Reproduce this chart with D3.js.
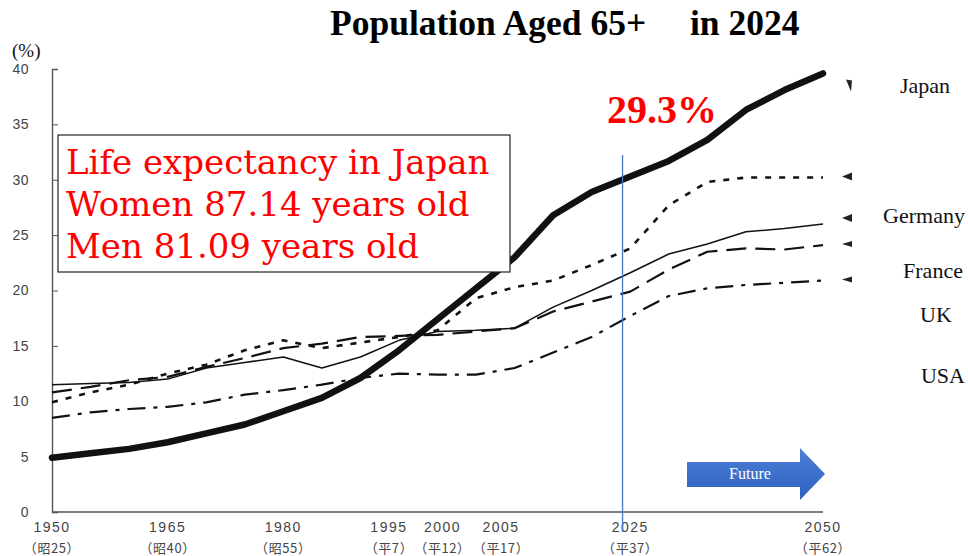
<!DOCTYPE html>
<html>
<head>
<meta charset="utf-8">
<script src="https://cdn.jsdelivr.net/npm/d3@7"></script>
<style>
  html, body { margin: 0; padding: 0; background: #fff; }
  svg { display: block; }
</style>
</head>
<body>
<svg id="chart" width="968" height="556"></svg>
<script>
// ---- data ----
const years = [1950,1955,1960,1965,1970,1975,1980,1985,1990,1995,2000,2005,2010,2015,2020,2025,2030,2035,2040,2045,2050];
const japan   = [4.9,5.3,5.7,6.3,7.1,7.9,9.1,10.3,12.1,14.6,17.4,20.2,23.0,26.8,28.9,30.3,31.7,33.6,36.3,38.1,39.6];
const germany = [9.9,10.8,11.5,12.5,13.3,14.6,15.5,14.8,15.3,15.8,16.4,19.3,20.3,20.9,22.3,23.8,27.7,29.8,30.2,30.2,30.2];
const france  = [11.5,11.6,11.7,12.0,13.0,13.5,14.0,13.0,14.0,15.5,16.3,16.4,16.6,18.5,20.0,21.6,23.3,24.2,25.3,25.6,26.0];
const uk      = [10.8,11.3,11.9,12.2,13.1,13.9,14.8,15.2,15.8,15.9,16.0,16.3,16.6,18.1,19.0,19.9,21.9,23.5,23.8,23.7,24.1];
const usa     = [8.5,9.0,9.3,9.5,9.9,10.6,11.0,11.5,12.1,12.5,12.4,12.4,13.0,14.4,15.8,17.7,19.5,20.2,20.5,20.7,20.9];
const seriesNames = ["Japan","Germany","France","UK","USA"];
const yTicks = [0,5,10,15,20,25,30,35,40];
const xTickYears = [1950,1965,1980,1995,2000,2005,2025,2050];
const xTickEras  = ["（昭25）","（昭40）","（昭55）","（平7）","（平12）","（平17）","（平37）","（平62）"];
const markerYear = 2024;
const titleMain = "Population Aged 65+";
const titleYear = "in 2024";
const shareLabel = "29.3%";
const lifeLines = ["Life expectancy in Japan","Women 87.14 years old","Men 81.09 years old"];
const futureLabel = "Future";

// ---- layout ----
const svg = d3.select("#chart");
const x = d3.scaleLinear().domain([1950, 2050]).range([52, 823]);
const y = d3.scaleLinear().domain([0, 40]).range([512, 69]);
const axisColor = "#555";
const tickFont = "'Liberation Sans', Arial, sans-serif";

// y axis
const yAxis = svg.append("g")
  .attr("transform", "translate(52,0)")
  .call(d3.axisLeft(y).tickValues(yTicks).tickSize(-6).tickPadding(23).tickFormat(d3.format("d")));
yAxis.select(".domain").attr("stroke", axisColor).attr("stroke-width", 1.4);
yAxis.selectAll(".tick line").attr("stroke", axisColor).attr("stroke-width", 1);
yAxis.selectAll(".tick text")
  .attr("fill", "#444").attr("font-family", tickFont)
  .attr("font-size", 14).attr("letter-spacing", 0.5);

// x axis (line only) + labels
svg.append("line")
  .attr("x1", x(1950)).attr("x2", x(2050)).attr("y1", y(0)).attr("y2", y(0))
  .attr("stroke", axisColor).attr("stroke-width", 1.4);
const nudge = {1995: -10, 2000: 5, 2005: 25};
const xl = svg.append("g");
xTickYears.forEach((yr, i) => {
  const cx = x(yr) + (nudge[yr] || 0);
  xl.append("text").attr("x", cx).attr("y", 532).attr("text-anchor", "middle")
    .attr("fill", "#444").attr("font-family", tickFont)
    .attr("font-size", 14).attr("letter-spacing", 1.5).text(yr);
  xl.append("text").attr("x", cx).attr("y", 553).attr("text-anchor", "middle")
    .attr("fill", "#444").attr("font-family", "'Noto Sans CJK JP', sans-serif")
    .attr("font-size", 13).attr("letter-spacing", 0.6).text(xTickEras[i]);
});

// (%) unit
svg.append("text").attr("x", 12).attr("y", 57)
  .attr("font-family", "'Liberation Serif', serif").attr("font-size", 19)
  .attr("fill", "#111").text("(%)");

// series
const seriesData = [japan, germany, france, uk, usa];
const styles = [
  {w: 6.5, dash: null},
  {w: 2.6, dash: "6,8"},
  {w: 1.5, dash: null},
  {w: 2.2, dash: "20,9"},
  {w: 2.2, dash: "18,8,4,8"}
];
const line = d3.line().x((d, i) => x(years[i])).y(d => y(d)).curve(d3.curveLinear);
seriesData.forEach((vals, k) => {
  svg.append("path").datum(vals)
    .attr("d", line)
    .attr("fill", "none")
    .attr("stroke", "#111")
    .attr("stroke-width", styles[k].w)
    .attr("stroke-linecap", k === 0 ? "round" : "butt")
    .attr("stroke-linejoin", "round")
    .attr("stroke-dasharray", styles[k].dash);
});

// end markers
seriesData.forEach((vals, k) => {
  const last = vals[vals.length - 1];
  const mx = x(2050) + 25;
  if (k === 0) {
    const my = y(last) + 12;
    svg.append("path").attr("d", `M${mx-2},${my-6} L${mx+4},${my-5} L${mx+3},${my+6} Z`).attr("fill", "#222");
  } else {
    const my = y(last) - (k === 2 ? 6 : 1);
    const h = k === 1 ? 4 : (k === 2 ? 4 : 3);
    svg.append("path").attr("d", `M${mx-6},${my} L${mx+4},${my-h} L${mx+4},${my+h} Z`).attr("fill", "#222");
  }
});

// right labels
const labelPos = [[925, 93], [924, 223], [933, 278], [936, 322], [943, 383]];
seriesNames.forEach((n, k) => {
  svg.append("text").attr("x", labelPos[k][0]).attr("y", labelPos[k][1])
    .attr("text-anchor", "middle")
    .attr("font-family", "'Liberation Serif', serif").attr("font-size", 22)
    .attr("fill", "#111").text(n);
});

// 2024 marker line
svg.append("line")
  .attr("x1", x(markerYear)).attr("x2", x(markerYear))
  .attr("y1", 155).attr("y2", 532)
  .attr("stroke", "#4a78c8").attr("stroke-width", 1.3);

// title
svg.append("text").attr("x", 330).attr("y", 35)
  .attr("font-family", "'Liberation Serif', serif").attr("font-weight", "bold")
  .attr("font-size", 35.5).attr("fill", "#000").text(titleMain);
svg.append("text").attr("x", 690).attr("y", 35)
  .attr("font-family", "'Liberation Serif', serif").attr("font-weight", "bold")
  .attr("font-size", 35.5).attr("fill", "#000").text(titleYear);

// 29.3%
svg.append("text").attr("x", 607).attr("y", 123)
  .attr("font-family", "'Liberation Serif', serif").attr("font-weight", "bold")
  .attr("font-size", 40).attr("fill", "#ff0000").text(shareLabel);

// life expectancy box
svg.append("rect").attr("x", 58).attr("y", 135).attr("width", 452).attr("height", 137)
  .attr("fill", "#fff").attr("stroke", "#222").attr("stroke-width", 1.2);
const lifeY = [174, 216, 258];
lifeLines.forEach((t, i) => {
  svg.append("text").attr("x", 66).attr("y", lifeY[i])
    .attr("font-family", "'DejaVu Serif', serif").attr("font-size", 34)
    .attr("fill", "#ff0000").text(t);
});

// Future arrow
const defs = svg.append("defs");
const grad = defs.append("linearGradient").attr("id", "fg").attr("x1", 0).attr("y1", 0).attr("x2", 0).attr("y2", 1);
grad.append("stop").attr("offset", "0%").attr("stop-color", "#4d7fd6");
grad.append("stop").attr("offset", "100%").attr("stop-color", "#2e62c0");
svg.append("path")
  .attr("d", "M687,462 L800,462 L800,448 L825,474 L800,500 L800,487 L687,487 Z")
  .attr("fill", "url(#fg)");
svg.append("text").attr("x", 750).attr("y", 479).attr("text-anchor", "middle")
  .attr("font-family", "'Liberation Serif', serif").attr("font-size", 16)
  .attr("fill", "#fff").text(futureLabel);
</script>
</body>
</html>
